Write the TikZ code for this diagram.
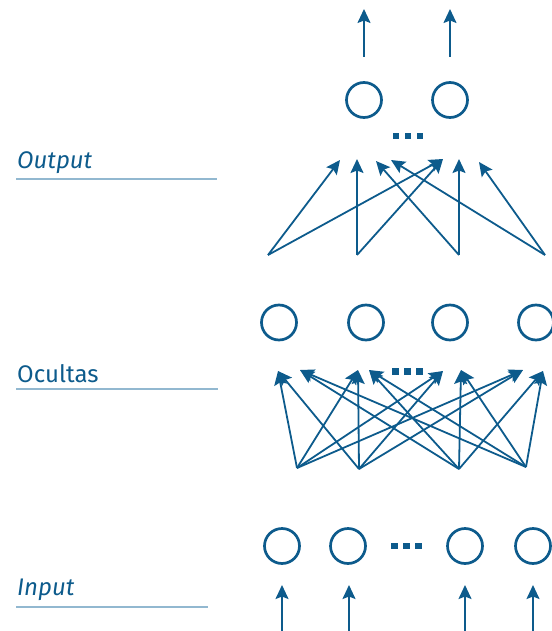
\documentclass[tikz,border=0pt]{standalone}
\usepackage{fontspec}
\setmainfont{Fira Sans}
\usetikzlibrary{arrows.meta}
\definecolor{netblue}{HTML}{0D5B8C}
\definecolor{rulecol}{HTML}{92B8D0}

\begin{document}
\begin{tikzpicture}[x=1pt,y=-1pt,
  neuron/.style={circle, draw=netblue, line width=2.7pt, minimum size=35pt, inner sep=0pt},
  link/.style={draw=netblue, line width=1.8pt, -{Stealth[length=14pt,width=13pt,inset=2.5pt]}},
  dotsq/.style={fill=netblue, minimum size=6.5pt, inner sep=0pt},
  layerlabel/.style={anchor=base west, text=netblue, font=\fontsize{24}{29}\selectfont, inner sep=0pt},
  layerrule/.style={draw=rulecol, line width=1.8pt}
]
\useasboundingbox (0,0) rectangle (551,631);

% ---------- layer labels ----------
\node[layerlabel] (lout) at (17,168) {\itshape Output};
\draw[layerrule] (16,179) -- (217,179);
\node[layerlabel] (lhid) at (17,382) {Ocultas};
\draw[layerrule] (16,389) -- (218,389);
\node[layerlabel] (lin) at (17,595) {\itshape Input};
\draw[layerrule] (16,607) -- (208,607);

% ---------- output layer ----------
\node[neuron] (o1) at (364,100) {};
\node[neuron] (o2) at (450,100) {};
\node[dotsq] (od1) at (396,136) {};
\node[dotsq] (od2) at (408,136) {};
\node[dotsq] (od3) at (420,136) {};
\coordinate (y1b) at (364,57);  \coordinate (y1t) at (364,9);
\coordinate (y2b) at (450,57);  \coordinate (y2t) at (450,9);
\draw[link] (y1b) -- (y1t);
\draw[link] (y2b) -- (y2t);

% weights into the output layer
\coordinate (a1) at (268,255);
\coordinate (a2) at (357,255);
\coordinate (a3) at (459,255);
\coordinate (a4) at (545,255);
\coordinate (u1) at (340,160);
\coordinate (u2) at (357,159);
\coordinate (u3) at (376,161);
\coordinate (u4) at (391,160);
\coordinate (u5) at (443,159);
\coordinate (u6) at (459,159);
\coordinate (u7) at (479,162);
\draw[link] (a1) -- (u1);
\draw[link] (a1) -- (u5);
\draw[link] (a2) -- (u2);
\draw[link] (a2) -- (u5);
\draw[link] (a3) -- (u3);
\draw[link] (a3) -- (u6);
\draw[link] (a4) -- (u4);
\draw[link] (a4) -- (u7);

% ---------- hidden layer ----------
\node[neuron] (h1) at (279,322.5) {};
\node[neuron] (h2) at (366,322.5) {};
\node[neuron] (h3) at (450,322.5) {};
\node[neuron] (h4) at (536,322.5) {};
\node[dotsq] (hd1) at (395.5,371.5) {};
\node[dotsq] (hd2) at (407.5,371.5) {};
\node[dotsq] (hd3) at (419.5,371.5) {};

% weights into the hidden layer
\coordinate (s1) at (297,468);
\coordinate (s2) at (359,469);
\coordinate (s3) at (459,469);
\coordinate (s4) at (526,467);
\coordinate (t1) at (278,371);
\coordinate (t2) at (300,370);
\coordinate (t3) at (358,370);
\coordinate (t4) at (369,370);
\coordinate (t5) at (443,371);
\coordinate (t6) at (461,370);
\coordinate (t7) at (523,370);
\coordinate (t8) at (543,371);
\foreach \s in {s1,s2}
  \foreach \t in {t1,t3,t5,t7}
    \draw[link] (\s) -- (\t);
\foreach \s in {s3,s4}
  \foreach \t in {t2,t4,t6,t8}
    \draw[link] (\s) -- (\t);

% ---------- input layer ----------
\node[neuron] (i1) at (282,546) {};
\node[neuron] (i2) at (348,546) {};
\node[neuron] (i3) at (465,546) {};
\node[neuron] (i4) at (533,546) {};
\node[dotsq] (id1) at (394.5,546) {};
\node[dotsq] (id2) at (406.5,546) {};
\node[dotsq] (id3) at (418.5,546) {};
\coordinate (x1b) at (282,631); \coordinate (x1t) at (282,585);
\coordinate (x2b) at (349,631); \coordinate (x2t) at (349,585);
\coordinate (x3b) at (465,631); \coordinate (x3t) at (465,585);
\coordinate (x4b) at (533,631); \coordinate (x4t) at (533,585);
\draw[link] (x1b) -- (x1t);
\draw[link] (x2b) -- (x2t);
\draw[link] (x3b) -- (x3t);
\draw[link] (x4b) -- (x4t);
\end{tikzpicture}
\end{document}
